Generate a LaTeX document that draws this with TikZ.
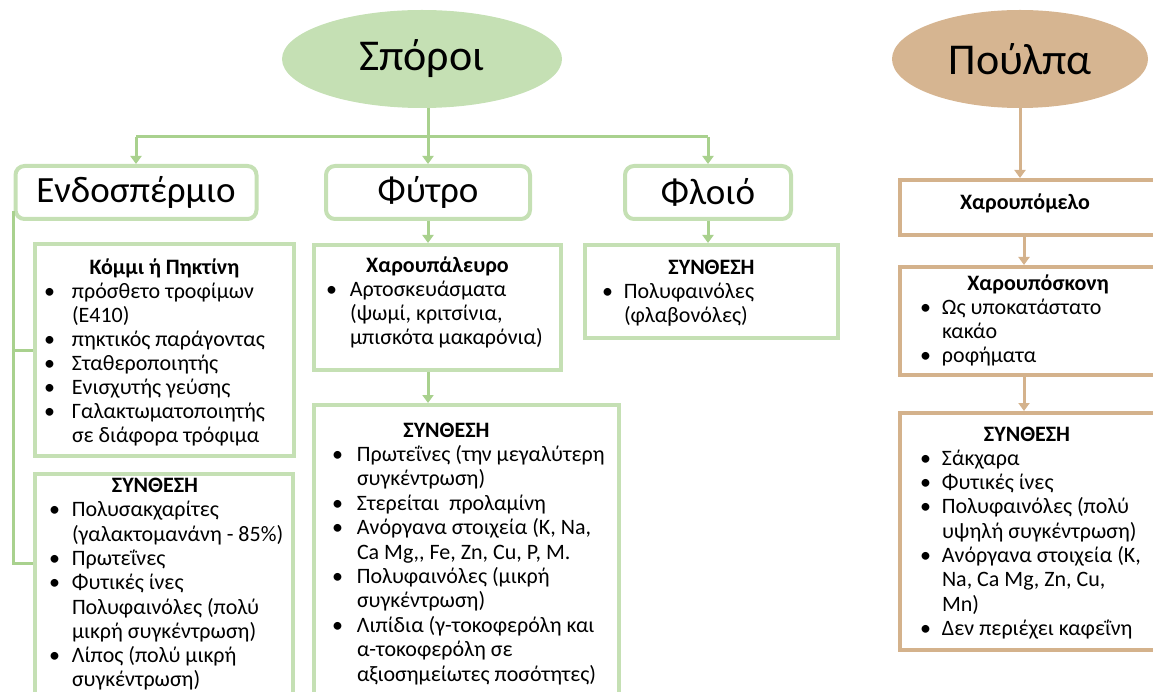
\documentclass[tikz,border=0pt]{standalone}
\usepackage{fontspec}
\setmainfont{Carlito}
\usetikzlibrary{
  positioning,
  shapes.geometric,
  arrows.meta,
}
\definecolor{seedfill}{RGB}{197,224,180}
\definecolor{seedline}{RGB}{169,209,142}
\definecolor{seedbox}{RGB}{197,224,180}
\definecolor{pulpfill}{RGB}{214,181,145}
\definecolor{pulpline}{RGB}{212,178,140}
\newlength{\bulx}
\newlength{\txtx}
\newcommand{\pan}[7][24.3pt]{\parbox[c][#3][t]{#2}{\fontsize{22}{#1}\selectfont
  \setlength{\bulx}{#5}\setlength{\txtx}{#6}\vspace*{#4}#7}}
\newcommand{\ttl}[2][0pt]{\noindent\makebox[\linewidth]{\hspace*{#1}\hspace*{#1}\textbf{#2}\strut}\par}
\newcommand{\itm}[1]{\noindent\hspace*{\bulx}\makebox[\dimexpr\txtx-\bulx\relax][l]{\textbullet}#1\strut\par}
\newcommand{\cnt}[1]{\noindent\hspace*{\txtx}#1\strut\par}

\begin{document}
\begin{tikzpicture}[x=1pt,y=-1pt,
    gline/.style={draw=seedline,line width=3pt},
    garrow/.style={gline,-{Triangle[width=11pt,length=8pt]}},
    tarrow/.style={draw=pulpline,line width=3pt,-{Triangle[width=11pt,length=8pt]}},
    oval/.style={ellipse,inner sep=0pt,minimum height=98pt,font=\fontsize{44}{52}\selectfont},
    rbox/.style={draw=seedbox,line width=4pt,rounded corners=9pt,inner sep=0pt,
      minimum height=53pt,font=\fontsize{37}{44}\selectfont},
    gbox/.style={draw=seedbox,line width=4pt,inner sep=0pt,anchor=north west},
    tbox/.style={gbox,draw=pulpline}]
    \useasboundingbox (0,0) rectangle (1153,692);
    \clip (0,0) rectangle (1153,692);

    \node [oval, fill=seedfill, minimum width=280pt] (sporoi) at (422,59) {Σπόροι};
    \node [oval, fill=pulpfill, minimum width=256pt] (poulpa) at (1020,59) {Πούλπα};

    \node [rbox, minimum width=241pt] (endo) at (136,192.5) {Ενδοσπέρμιο};
    \node [rbox, minimum width=204pt] (fytro) at (428,192.5) {Φύτρο};
    \node [rbox, minimum width=166pt] (floio) at (708,192.5) {Φλοιό};
    \coordinate (bar) at (0,137);

    % seed column boxes
    \node [gbox] (komi) at (33,242) {\pan[24pt]{259pt}{212pt}{13.5pt}{9pt}{37pt}{
      \ttl{Κόμμι ή Πηκτίνη}
      \itm{πρόσθετο τροφίμων}
      \cnt{(E410)}
      \itm{πηκτικός παράγοντας}
      \itm{Σταθεροποιητής}
      \itm{Ενισχυτής γεύσης}
      \itm{Γαλακτωματοποιητής}
      \cnt{σε διάφορα τρόφιμα}}};
    \node [gbox] (synA) at (33,472) {\pan{258pt}{250pt}{1.5pt}{14pt}{37pt}{
      \ttl[-9pt]{ΣΥΝΘΕΣΗ}
      \itm{Πολυσακχαρίτες}
      \cnt{(γαλακτομανάνη - 85\%)}
      \itm{Πρωτεΐνες}
      \itm{Φυτικές ίνες}
      \cnt{Πολυφαινόλες (πολύ}
      \cnt{μικρή συγκέντρωση)}
      \itm{Λίπος (πολύ μικρή}
      \cnt{συγκέντρωση)}}};
    \node [gbox] (alev) at (312,243) {\pan{247pt}{125pt}{10pt}{12pt}{36pt}{
      \ttl{Χαρουπάλευρο}
      \itm{Αρτοσκευάσματα}
      \cnt{(ψωμί, κριτσίνια,}
      \cnt{μπισκότα μακαρόνια)}}};
    \node [gbox] (synB) at (312,403) {\pan[24.4pt]{305pt}{320pt}{15pt}{18pt}{43pt}{
      \ttl[-20pt]{ΣΥΝΘΕΣΗ}
      \itm{Πρωτεΐνες (την μεγαλύτερη}
      \cnt{συγκέντρωση)}
      \itm{Στερείται\ \ προλαμίνη}
      \itm{Ανόργανα στοιχεία (K, Na,}
      \cnt{Ca Mg,{},{} Fe, Zn, Cu, P, M.}
      \itm{Πολυφαινόλες (μικρή}
      \cnt{συγκέντρωση)}
      \itm{Λιπίδια (γ-τοκοφερόλη και}
      \cnt{α-τοκοφερόλη σε}
      \cnt{αξιοσημείωτες ποσότητες)}}};
    \node [gbox] (synC) at (583,243) {\pan{253pt}{93pt}{12pt}{17pt}{39pt}{
      \ttl{ΣΥΝΘΕΣΗ}
      \itm{Πολυφαινόλες}
      \cnt{(φλαβονόλες)}}};

    % pulp column boxes
    \node [tbox] (meli) at (898,178) {\pan{272pt}{55pt}{12pt}{20pt}{42pt}{
      \ttl[-11pt]{Χαρουπόμελο}}};
    \node [tbox] (skoni) at (898,265) {\pan{272pt}{108pt}{6pt}{20pt}{42pt}{
      \ttl[2pt]{Χαρουπόσκονη}
      \itm{Ως υποκατάστατο}
      \cnt{κακάο}
      \itm{ροφήματα}}};
    \node [tbox] (synD) at (898,411) {\pan{272pt}{237pt}{11pt}{20pt}{42pt}{
      \ttl[-9pt]{ΣΥΝΘΕΣΗ}
      \itm{Σάκχαρα}
      \itm{Φυτικές ίνες}
      \itm{Πολυφαινόλες (πολύ}
      \cnt{υψηλή συγκέντρωση)}
      \itm{Ανόργανα στοιχεία (K,}
      \cnt{Na, Ca Mg, Zn, Cu,}
      \cnt{Mn)}
      \itm{Δεν περιέχει καφεΐνη}}};

    \draw [garrow] (sporoi.south -| fytro.north) to (fytro.north);
    \draw [gline] (bar -| endo.north) to (bar -| floio.north);
    \draw [garrow] (bar -| endo.north) to (endo.north);
    \draw [garrow] (bar -| floio.north) to (floio.north);
    \draw [garrow] (fytro.south) to (fytro.south |- alev.north);
    \draw [garrow] (fytro.south |- alev.south) to (fytro.south |- synB.north);
    \draw [garrow] (floio.south) to (floio.south |- synC.north);
    \draw [gline] ([yshift=10pt]endo.south west) |- ([yshift=-91pt]synA.north west);
    \draw [gline] (endo.south west |- komi.west) to (komi.west);
    \draw [tarrow] (poulpa.south) to (poulpa.south |- meli.north);
    \draw [tarrow] ([xshift=4pt]poulpa.south |- meli.south) to ([xshift=4pt]poulpa.south |- skoni.north);
    \draw [tarrow] ([xshift=4pt]poulpa.south |- skoni.south) to ([xshift=4pt]poulpa.south |- synD.north);
  \end{tikzpicture}
\end{document}
